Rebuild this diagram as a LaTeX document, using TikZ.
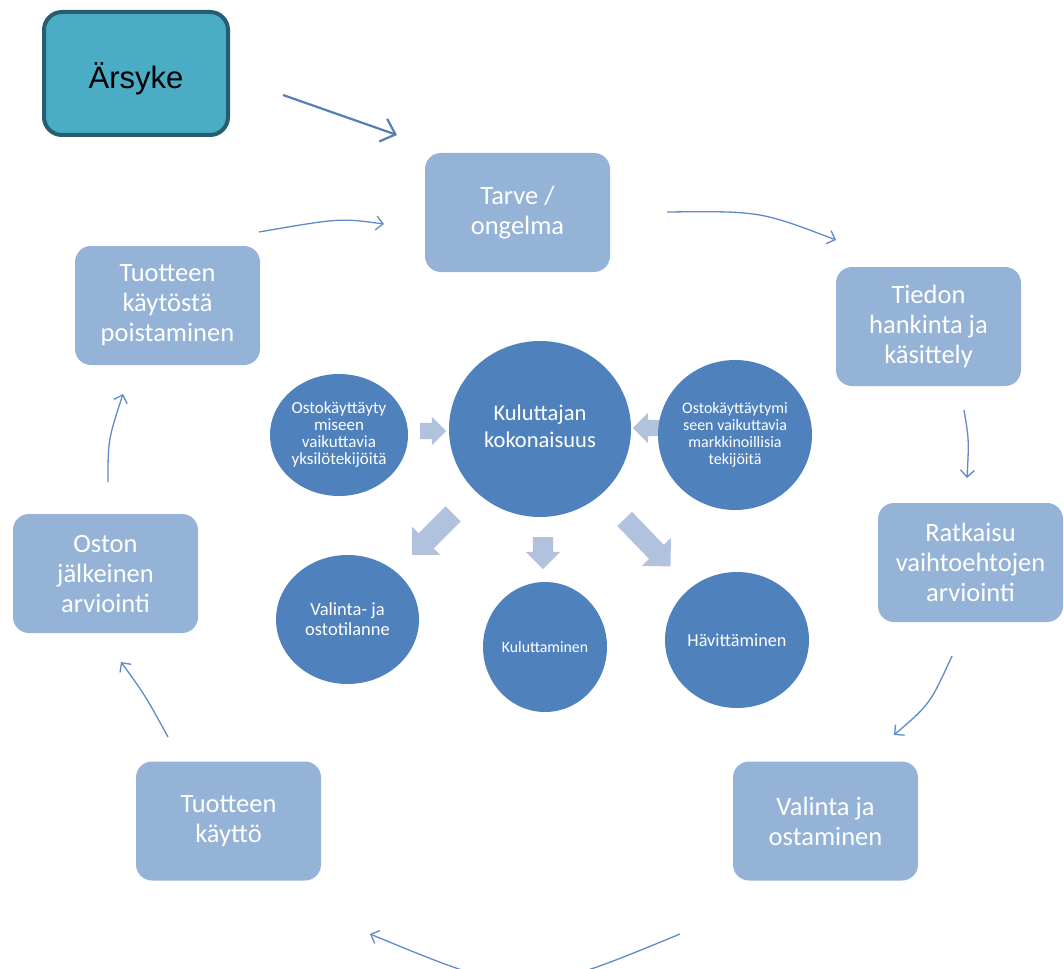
\documentclass[tikz,border=0pt]{standalone}
\usepackage{fontspec}
\setmainfont{Carlito}
\newfontfamily\arialfont{Liberation Sans}
\usetikzlibrary{shapes.geometric,shapes.arrows,arrows.meta}
\definecolor{boxfill}{HTML}{95B3D7}
\definecolor{circfill}{HTML}{4F81BD}
\definecolor{barfill}{HTML}{B0C2DE}
\definecolor{thinarr}{HTML}{5F8ACB}
\definecolor{arsfill}{HTML}{4BACC6}
\definecolor{arsline}{HTML}{245E70}
\begin{document}
\begin{tikzpicture}[x=1pt,y=-1pt,
  stepbox/.style={rectangle, rounded corners=16pt, fill=boxfill, text=white,
    minimum width=185pt, minimum height=119pt, align=center, inner sep=0pt,
    font=\fontsize{26.5}{30}\selectfont},
  circ/.style={ellipse, fill=circfill, text=white, align=center, inner sep=0pt},
  barr/.style={single arrow, fill=barfill, inner xsep=0pt, single arrow tip angle=90},
  thin/.style={draw=thinarr, line width=1.3pt, -{Straight Barb[length=7pt,width=14pt]}}
]
\useasboundingbox (0,0) rectangle (1064,968);

% Trigger box
\node[rectangle, rounded corners=18pt, fill=arsfill, draw=arsline, line width=4pt,
  minimum width=184pt, minimum height=123pt, inner sep=0pt,
  font=\arialfont\fontsize{31}{36}\selectfont] (ars) at (136,73.5) {\raisebox{-15pt}[0pt][0pt]{Ärsyke}};

% Cycle boxes
\node[stepbox] (tarve) at (517.5,212.5) {Tarve /\\ongelma};
\node[stepbox] (tiedon) at (928.5,326.5) {Tiedon\\hankinta ja\\käsittely};
\node[stepbox] (ratk) at (970.5,562.5) {Ratkaisu\\vaihtoehtojen\\arviointi};
\node[stepbox] (valosto) at (825.5,821) {Valinta ja\\ostaminen};
\node[stepbox] (kaytto) at (228.5,821) {Tuotteen\\käyttö};
\node[stepbox] (oston) at (105.5,573.5) {Oston\\jälkeinen\\arviointi};
\node[stepbox] (poisto) at (167.5,305.5) {Tuotteen\\käytöstä\\poistaminen};

% Block arrows (drawn before circles)
\node[barr, inner ysep=8pt, single arrow head extend=6pt, minimum height=26pt] (ba1) at (429,431) {};
\node[barr, inner ysep=8pt, single arrow head extend=7pt, minimum height=28pt, rotate=180] (ba2) at (651,428) {};
\node[barr, inner ysep=10.5pt, single arrow head extend=9pt, minimum height=58pt, rotate=-135] (ba3) at (436.5,530.5) {};
\node[barr, inner ysep=10pt, single arrow head extend=7pt, minimum height=32pt, rotate=-90] (ba4) at (543,548) {};
\node[barr, inner ysep=10pt, single arrow head extend=10pt, minimum height=66pt, rotate=-46] (ba5) at (644,539) {};

% Circles
\node[circ, minimum width=182pt, minimum height=176pt, font=\fontsize{22.5}{27}\selectfont] (koko) at (540,429) {\raisebox{8pt}{\begin{tabular}{@{}c@{}}Kuluttajan\\kokonaisuus\end{tabular}}};
\node[circ, minimum width=138pt, minimum height=122pt, font=\fontsize{17}{17}\selectfont] (yks) at (339,435) {Ostokäyttäyty\\miseen\\vaikuttavia\\yksilötekijöitä};
\node[circ, minimum width=154pt, minimum height=150pt, font=\fontsize{16}{17}\selectfont] (mark) at (735,435) {Ostokäyttäytymi\\seen vaikuttavia\\markkinoillisia\\tekijöitä};
\node[circ, minimum width=143pt, minimum height=129pt, font=\fontsize{18.5}{20}\selectfont] (valti) at (347.5,619.5) {Valinta- ja\\ostotilanne};
\node[circ, minimum width=124pt, minimum height=130pt, font=\fontsize{15.8}{18}\selectfont] (kulu) at (545,647) {Kuluttaminen};
\node[circ, minimum width=144pt, minimum height=136pt, font=\fontsize{18.2}{20}\selectfont] (havi) at (737,640) {Hävittäminen};

% Free ends of the thin connectors
\coordinate (a0s) at (283,95);   \coordinate (a0e) at (397,135);
\coordinate (a1s) at (259,232);  \coordinate (a1e) at (384,224);
\coordinate (a2s) at (667,212);  \coordinate (a2e) at (836,240);
\coordinate (a3s) at (964,410);  \coordinate (a3e) at (967,478);
\coordinate (a4s) at (952,656);  \coordinate (a4e) at (894,735);
\coordinate (a5s) at (680,934);  \coordinate (a5e) at (370,934);
\coordinate (a6s) at (168,737);  \coordinate (a6e) at (121,662);
\coordinate (a7s) at (108,482);  \coordinate (a7e) at (123,394);

\draw[draw=thinarr!90!black, line width=2.2pt, -{Straight Barb[length=13pt,width=24pt]}] (a0s) -- (a0e);
\draw[thin] (a1s) .. controls (340,218) .. (a1e);
\draw[thin] (a2s) .. controls (760,211) .. (a2e);
\draw[thin] (a3s) .. controls (969,440) .. (a3e);
\draw[thin] (a4s) .. controls (930,704) .. (a4e);
\draw[thin] (a5s) .. controls (525,998) .. (a5e);
\draw[thin] (a6s) .. controls (145,695) .. (a6e);
\draw[thin] (a7s) .. controls (108,440) .. (a7e);
\end{tikzpicture}
\end{document}
